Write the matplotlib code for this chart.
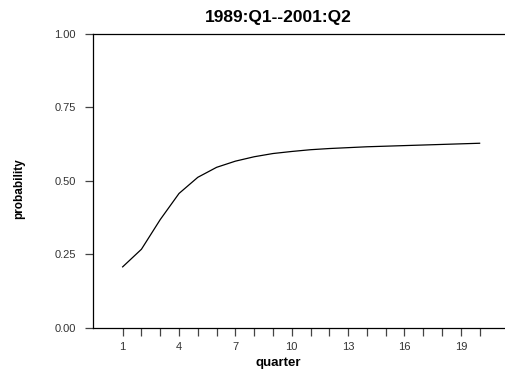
import matplotlib
matplotlib.use("Agg")
import matplotlib.pyplot as plt

# dane
kwartaly = list(range(1, 21))
prawdopodobienstwo = [0.207, 0.267, 0.368, 0.457, 0.512, 0.546, 0.567, 0.582, 0.593,
                      0.600, 0.606, 0.610, 0.613, 0.616, 0.618, 0.620, 0.622, 0.624,
                      0.626, 0.628]
etykiety_x = [1, 4, 7, 10, 13, 16, 19]
etykiety_y = [0.0, 0.25, 0.5, 0.75, 1.0]

plt.rcParams['font.family'] = ['Liberation Sans', 'DejaVu Sans']

fig = plt.figure(figsize=(5.06, 3.74), dpi=100)
ax = fig.add_axes([0.183, 0.124, 0.815, 0.785])

ax.plot(kwartaly, prawdopodobienstwo, color="black", linewidth=0.9)

ax.set_xlim(-0.6, 21.35)
ax.set_ylim(0, 1)
ax.set_xticks(kwartaly, minor=True)
ax.set_xticks(etykiety_x)
ax.set_xticklabels([str(k) for k in etykiety_x], fontsize=8, color="#333333")
ax.set_yticks(etykiety_y)
ax.set_yticklabels([f"{v:.2f}" for v in etykiety_y], fontsize=8, color="#333333")
ax.tick_params(axis="both", which="both", direction="out", length=6, width=0.9, color="#444444")
ax.tick_params(axis="x", which="major", pad=4)
ax.tick_params(axis="y", pad=6)

ax.spines["right"].set_visible(False)
for s in ["left", "top", "bottom"]:
    ax.spines[s].set_linewidth(0.9)

ax.set_title("1989:Q1--2001:Q2", fontsize=12.5, fontweight="bold", pad=9, x=0.45)
ax.set_xlabel("quarter", fontsize=9.5, fontweight="bold")
ax.xaxis.set_label_coords(0.45, -0.1)
ax.set_ylabel("probability", fontsize=8.5, fontweight="bold")
ax.yaxis.set_label_coords(-0.163, 0.472)

fig.savefig("out.png", dpi=100)
